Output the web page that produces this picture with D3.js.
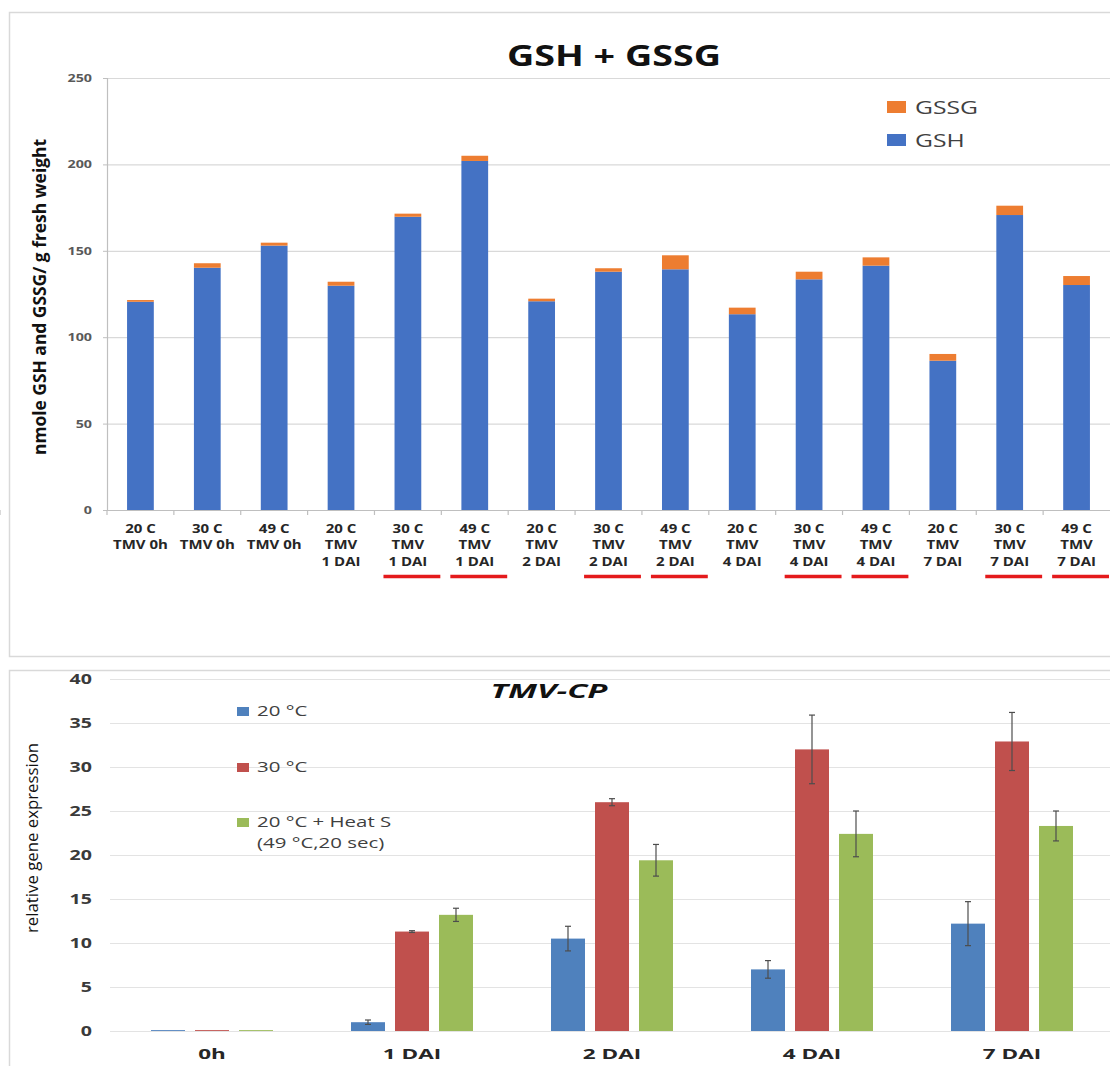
<!DOCTYPE html>
<html>
<head>
<meta charset="utf-8">
<script src="https://cdn.jsdelivr.net/npm/d3@7"></script>
<style>
  html, body { margin: 0; padding: 0; background: #fff; }
  svg { display: block; font-family: "Open Sans", "Noto Sans", sans-serif; }
</style>
</head>
<body>
<svg id="fig" width="1110" height="1066"></svg>
<script>
// ---------- Panel A: total glutathione (stacked GSH + GSSG) ----------
const gsCategories = [
  ["20 C", "TMV 0h"], ["30 C", "TMV 0h"], ["49 C", "TMV 0h"],
  ["20 C", "TMV", "1 DAI"], ["30 C", "TMV", "1 DAI"], ["49 C", "TMV", "1 DAI"],
  ["20 C", "TMV", "2 DAI"], ["30 C", "TMV", "2 DAI"], ["49 C", "TMV", "2 DAI"],
  ["20 C", "TMV", "4 DAI"], ["30 C", "TMV", "4 DAI"], ["49 C", "TMV", "4 DAI"],
  ["20 C", "TMV", "7 DAI"], ["30 C", "TMV", "7 DAI"], ["49 C", "TMV", "7 DAI"]
];
const gshValues  = [120.5, 140.2, 153.0, 129.8, 169.7, 202.0, 120.8, 137.9, 139.3, 113.3, 133.5, 141.4, 86.4, 170.7, 130.2];
const gssgValues = [1.0, 2.6, 1.7, 2.3, 1.8, 3.0, 1.5, 2.0, 8.1, 3.8, 4.4, 4.8, 3.9, 5.4, 5.2];
const underlined = [false, false, false, false, true, true, false, true, true, false, true, true, false, true, true];
const gsTicks = [0, 50, 100, 150, 200, 250];

// ---------- Panel B: TMV-CP relative expression ----------
const tmvGroups = ["0h", "1 DAI", "2 DAI", "4 DAI", "7 DAI"];
const tmvSeries = ["20 °C", "30 °C", "20 °C + Heat S"];
const tmv20  = [0.1, 1.0, 10.5, 7.0, 12.2];
const tmv30  = [0.1, 11.3, 26.0, 32.0, 32.9];
const tmvHS  = [0.1, 13.2, 19.4, 22.4, 23.3];
const err20  = [0, 0.25, 1.4, 1.0, 2.5];
const err30  = [0, 0.1, 0.4, 3.9, 3.3];
const errHS  = [0, 0.75, 1.8, 2.6, 1.7];
const tmvTicks = [0, 5, 10, 15, 20, 25, 30, 35, 40];

const svg = d3.select("#fig");
svg.append("rect").attr("width", 1110).attr("height", 1066).attr("fill", "#fff");

// The figure's lettering is set wide; draw each label in a group that
// stretches it horizontally about its anchor point.
function wideText(parent, x, y, sx, lines, lineGap) {
  const g = parent.append("g").attr("transform", `translate(${x},${y}) scale(${sx},1)`);
  const t = g.append("text");
  (Array.isArray(lines) ? lines : [lines]).forEach((s, k) =>
    t.append("tspan").attr("x", 0).attr("dy", k === 0 ? 0 : lineGap).text(s));
  return t;
}

// ================= Panel A =================
const A = svg.append("g");
const frameColor = "#d9d9d9";
const sxA = 1.3;
A.append("path")
  .attr("d", "M1112,12.5 H9.5 V656.5 H1112")
  .attr("fill", "none").attr("stroke", frameColor).attr("stroke-width", 1.5);

const yA = d3.scaleLinear().domain([0, 250]).range([510, 78]);
const xA = d3.scaleBand().domain(d3.range(gsCategories.length))
  .range([107, 1110]).paddingInner(0.6).paddingOuter(0.3);

// gridlines
A.append("g").selectAll("line").data(gsTicks.filter(d => d > 0)).join("line")
  .attr("x1", 107).attr("x2", 1110)
  .attr("y1", d => yA(d) + 0.5).attr("y2", d => yA(d) + 0.5)
  .attr("stroke", "#d9d9d9").attr("stroke-width", 1.2);

// y axis
const padA = 15;
const yAxisA = A.append("g").attr("transform", "translate(107,0)")
  .call(d3.axisLeft(yA).tickValues(gsTicks).tickSize(4).tickPadding(padA));
yAxisA.select(".domain").attr("stroke", "#bfbfbf").attr("stroke-width", 1.2);
yAxisA.selectAll(".tick line").attr("stroke", "#bfbfbf");
yAxisA.selectAll(".tick text")
  .attr("x", -padA / sxA).attr("transform", `scale(${sxA},1)`)
  .attr("fill", "#595959").attr("font-size", 11).attr("font-weight", 700)
  .attr("font-family", "'Open Sans', sans-serif");

// stacked bars
const stackA = d3.stack().keys(["gsh", "gssg"])(
  gshValues.map((v, i) => ({ i, gsh: v, gssg: gssgValues[i] })));
const colorsA = { gsh: "#4472c4", gssg: "#ed7d31" };
A.append("g").selectAll("g").data(stackA).join("g")
  .attr("fill", d => colorsA[d.key])
  .selectAll("rect").data(d => d).join("rect")
  .attr("x", d => xA(d.data.i))
  .attr("width", xA.bandwidth())
  .attr("y", d => yA(d[1]))
  .attr("height", d => yA(d[0]) - yA(d[1]));

// x axis line and between-category ticks
const stepA = xA.step();
const bound = i => xA(i) - stepA * xA.paddingInner() / 2;
A.append("line").attr("x1", 107).attr("x2", 1110)
  .attr("y1", yA(0) + 0.5).attr("y2", yA(0) + 0.5)
  .attr("stroke", "#bfbfbf").attr("stroke-width", 1.2);
A.append("g").selectAll("line").data(d3.range(0, gsCategories.length + 1)).join("line")
  .attr("x1", i => i === 0 ? 107 : bound(i)).attr("x2", i => i === 0 ? 107 : bound(i))
  .attr("y1", yA(0)).attr("y2", yA(0) + 5)
  .attr("stroke", "#bfbfbf").attr("stroke-width", 1.2);

// category labels
const labA = A.append("g").attr("font-size", 12.5).attr("font-weight", 700)
  .attr("fill", "#262626").attr("text-anchor", "middle");
gsCategories.forEach((lines, i) => {
  wideText(labA, xA(i) + xA.bandwidth() / 2, 533, 1.2, lines, 16.5);
});

// red underlines marking the treated samples
A.append("g").selectAll("line").data(d3.range(gsCategories.length).filter(i => underlined[i])).join("line")
  .attr("x1", i => bound(i) + 9).attr("x2", i => bound(i) + stepA - 1)
  .attr("y1", 576.5).attr("y2", 576.5)
  .attr("stroke", "#e41a1c").attr("stroke-width", 3.5);

// title
wideText(A, 614, 66, sxA, "GSH + GSSG")
  .attr("text-anchor", "middle").attr("font-size", 29).attr("font-weight", 700).attr("fill", "#111");

// y title
A.append("text")
  .attr("transform", "translate(46,297) rotate(-90)")
  .attr("text-anchor", "middle").attr("font-size", 18).attr("font-weight", 700)
  .attr("fill", "#111")
  .attr("textLength", 316).attr("lengthAdjust", "spacingAndGlyphs")
  .text("nmole GSH and GSSG/ g fresh weight");

// legend
const legA = A.append("g").attr("font-size", 19).attr("fill", "#404040");
[["GSSG", "gssg", 101], ["GSH", "gsh", 134]].forEach(([name, key, y]) => {
  legA.append("rect").attr("x", 887).attr("y", y).attr("width", 19).attr("height", 12)
    .attr("fill", colorsA[key]);
  wideText(legA, 915, y + 13, sxA, name);
});

// ================= Panel B =================
const B = svg.append("g");
const sxB = 1.46;
B.append("path")
  .attr("d", "M1112,670.5 H9.5 V1070")
  .attr("fill", "none").attr("stroke", frameColor).attr("stroke-width", 1.5);

const yB = d3.scaleLinear().domain([0, 40]).range([1031, 679]);
const x0 = d3.scaleBand().domain(tmvGroups).range([112, 1112]).padding(0);
const x1 = d3.scaleBand().domain(tmvSeries).range([-61, 61]).paddingInner(10 / 44).paddingOuter(0);
const colorsB = ["#4f81bd", "#c0504d", "#9bbb59"];
const valsB = [tmv20, tmv30, tmvHS];
const errsB = [err20, err30, errHS];

// gridlines
B.append("g").selectAll("line").data(tmvTicks).join("line")
  .attr("x1", 110).attr("x2", 1110)
  .attr("y1", d => yB(d) + 0.5).attr("y2", d => yB(d) + 0.5)
  .attr("stroke", "#e3e3e3").attr("stroke-width", 1.2);

// y tick labels
const padB = 18;
const yAxisB = B.append("g").attr("transform", "translate(110,0)")
  .call(d3.axisLeft(yB).tickValues(tmvTicks).tickSize(0).tickPadding(padB));
yAxisB.select(".domain").remove();
yAxisB.selectAll(".tick text")
  .attr("x", -padB / 1.4).attr("transform", "scale(1.4,1)")
  .attr("fill", "#3a3a3a").attr("font-size", 14).attr("font-weight", 700)
  .attr("font-family", "'Open Sans', sans-serif");

// bars
const flatB = [];
tmvSeries.forEach((s, si) => tmvGroups.forEach((g, gi) =>
  flatB.push({ s, si, g, v: valsB[si][gi], e: errsB[si][gi] })));
B.append("g").selectAll("rect").data(flatB).join("rect")
  .attr("x", d => x0(d.g) + x0.bandwidth() / 2 + x1(d.s))
  .attr("width", x1.bandwidth())
  .attr("y", d => yB(d.v))
  .attr("height", d => yB(0) - yB(d.v))
  .attr("fill", d => colorsB[d.si]);

// error bars
const eb = B.append("g").attr("stroke", "#4d4d4d").attr("stroke-width", 1.2);
flatB.filter(d => d.e > 0).forEach(d => {
  const cx = x0(d.g) + x0.bandwidth() / 2 + x1(d.s) + x1.bandwidth() / 2;
  const y1 = yB(d.v + d.e), y2 = yB(d.v - d.e);
  eb.append("line").attr("x1", cx).attr("x2", cx).attr("y1", y1).attr("y2", y2);
  eb.append("line").attr("x1", cx - 3).attr("x2", cx + 3).attr("y1", y1).attr("y2", y1);
  eb.append("line").attr("x1", cx - 3).attr("x2", cx + 3).attr("y1", y2).attr("y2", y2);
});

// category labels
const labB = B.append("g").attr("text-anchor", "middle").attr("font-size", 15)
  .attr("font-weight", 700).attr("fill", "#262626");
tmvGroups.forEach(gname => wideText(labB, x0(gname) + x0.bandwidth() / 2, 1059, 1.5, gname));

// title
wideText(B, 549, 698, 1.65, "TMV-CP")
  .attr("text-anchor", "middle").attr("font-size", 20).attr("font-weight", 700)
  .attr("font-style", "italic").attr("fill", "#111");

// y title
B.append("text")
  .attr("transform", "translate(38,838) rotate(-90)")
  .attr("text-anchor", "middle").attr("font-size", 17)
  .attr("fill", "#111")
  .attr("textLength", 190).attr("lengthAdjust", "spacingAndGlyphs")
  .text("relative gene expression");

// legend
const legB = B.append("g").attr("font-size", 14).attr("fill", "#404040");
[[0, 707], [1, 763], [2, 818]].forEach(([si, y]) => {
  legB.append("rect").attr("x", 237).attr("y", y).attr("width", 12).attr("height", 9)
    .attr("fill", colorsB[si]);
  wideText(legB, 257, y + 9, sxB, tmvSeries[si]);
});
wideText(legB, 257, 848, sxB, "(49 °C,20 sec)");
</script>
</body>
</html>
